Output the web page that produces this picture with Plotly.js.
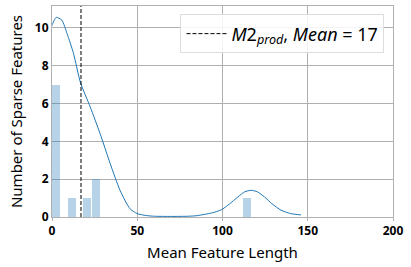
<!DOCTYPE html>
<html><head><meta charset="utf-8">
<script src="https://cdn.plot.ly/plotly-3.0.1.min.js"></script>
<style>html,body{margin:0;padding:0;background:#fff}#c{width:411px;height:267px}</style>
</head><body><div id="c"></div>
<script>
const binCenters = [2.4, 11.5, 20.7, 25.6, 114.3];
const binCounts = [7, 1, 1, 2, 1];
const binWidth = 4.8;
const kdeX = [-2, 0, 2.5, 5.8, 8.8, 12.6, 16.7, 22.4, 28.2, 34.1, 39.9, 45.7, 50, 55, 60, 70, 80, 85, 89.5, 94, 99.3, 104, 109, 113, 116.8, 120.5, 124.6, 129, 134.3, 140, 146];
const kdeY = [9.6, 10.14, 10.55, 10.4, 9.7, 8.65, 7.1, 5.82, 4.41, 2.83, 1.41, 0.44, 0.18, 0.08, 0.04, 0.03, 0.04, 0.07, 0.14, 0.22, 0.38, 0.68, 1.06, 1.33, 1.41, 1.33, 1.06, 0.7, 0.36, 0.18, 0.11];
const meanValue = 17;
const xTicks = [0, 50, 100, 150, 200];
const yTicks = [0, 2, 4, 6, 8, 10];

const traces = [
  {type:'bar', x: binCenters, y: binCounts, width: binCenters.map(()=>binWidth),
   marker:{color:'rgba(31,119,180,0.32)', line:{width:0}}, showlegend:false, hoverinfo:'skip'},
  {type:'scatter', mode:'lines', x: kdeX, y: kdeY, line:{color:'#1f77b4', width:1, shape:'spline', smoothing:0.6},
   showlegend:false, hoverinfo:'skip'},
  {type:'scatter', mode:'lines', x:[meanValue, meanValue], y:[0, 11.15], line:{color:'#000', width:1, dash:'4px,2px'},
   name:'<i>M</i>2<sub><i>prod</i></sub>, <i>Mean</i> = 17', showlegend:true, hoverinfo:'skip'}
];
const layout = {
  width:411, height:267,
  margin:{l:52, r:18, t:6, b:50},
  paper_bgcolor:'#fff', plot_bgcolor:'#fff',
  font:{family:'Noto Sans, sans-serif', color:'#000'},
  xaxis:{range:[0,200], tickvals:xTicks, ticktext:xTicks.map(String), showgrid:true, gridcolor:'#b0b0b0', gridwidth:1,
    zeroline:false, showline:true, linecolor:'#b0b0b0', mirror:true, ticks:'outside', ticklen:3, tickcolor:'#b0b0b0',
    tickfont:{size:12, family:'Noto Sans, sans-serif', weight:'bold'},
    title:{text:'Mean Feature Length', font:{size:15}, standoff:9}},
  yaxis:{range:[0,11.15], tickvals:yTicks, ticktext:yTicks.map(String), showgrid:true, gridcolor:'#b0b0b0', gridwidth:1,
    zeroline:false, showline:true, linecolor:'#b0b0b0', mirror:true, ticks:'',
    tickfont:{size:12, family:'Noto Sans, sans-serif', weight:'bold'},
    title:{text:'Number of Sparse Features', font:{size:15}, standoff:8}},
  legend:{x:0.975, y:0.96, xanchor:'right', yanchor:'top', bgcolor:'rgba(255,255,255,0.85)', bordercolor:'#dddddd', borderwidth:1,
    font:{size:18}, itemwidth:40},
  bargap:0
};
Plotly.newPlot('c', traces, layout, {displayModeBar:false, staticPlot:true});
</script></body></html>
